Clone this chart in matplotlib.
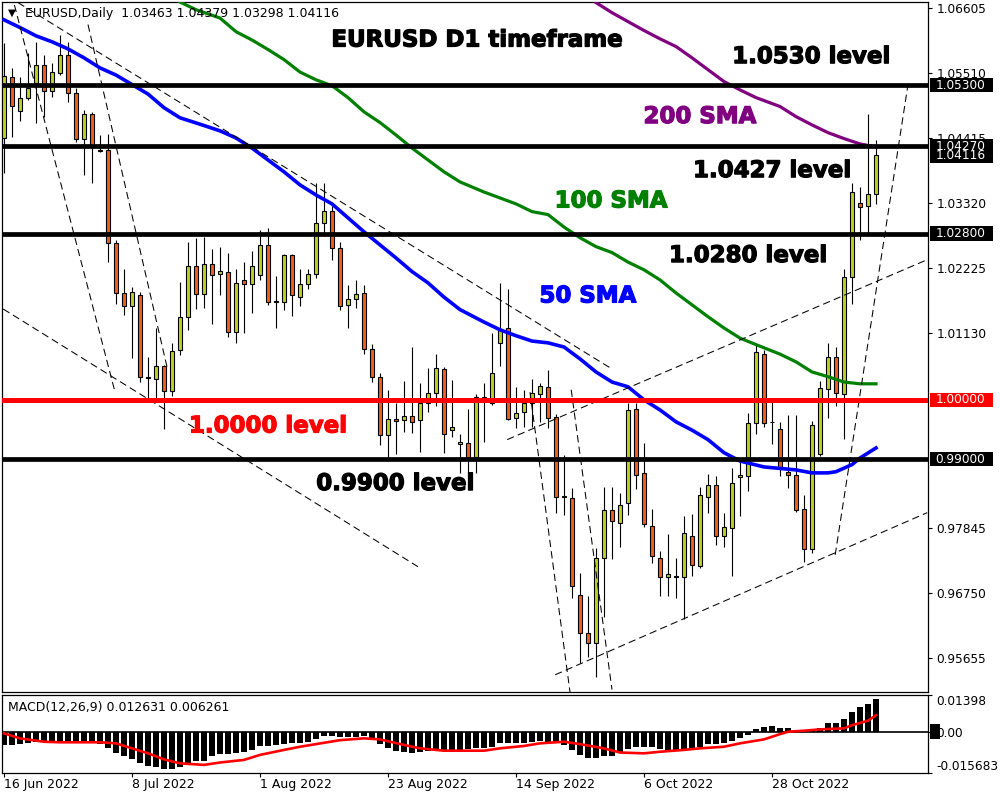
import numpy as np
import matplotlib
matplotlib.use('Agg')
import matplotlib.pyplot as plt
import matplotlib.transforms as mtransforms
import matplotlib.patheffects as pe
from matplotlib.patches import Rectangle

plt.rcParams['font.family'] = ['DejaVu Sans']

# daily bars, 16 Jun 2022 .. 16 Nov 2022 (bar index 0..109)
opens = [1.0441, 1.0544, 1.0487, 1.0508, 1.0534, 1.0564, 1.0520, 1.0551, 1.0581, 1.0517,
         1.0439, 1.0481, 1.0421, 1.0421, 1.0264, 1.0180, 1.0158, 1.0177, 1.0039, 1.0035,
         1.0057, 1.0015, 1.0084, 1.0140, 1.0226, 1.0178, 1.0229, 1.0212, 1.0215, 1.0114,
         1.0202, 1.0195, 1.0210, 1.0261, 1.0165, 1.0165, 1.0244, 1.0173, 1.0195, 1.0212,
         1.0298, 1.0318, 1.0256, 1.0160, 1.0170, 1.0180, 1.0086, 1.0039, 0.9941, 0.9968,
         0.9966, 0.9973, 0.9966, 0.9995, 1.0012, 1.0052, 0.9949, 0.9926, 0.9928, 0.9903,
         1.0005, 0.9995, 1.0096, 1.0121, 0.9970, 0.9980, 0.9995, 1.0010, 1.0022, 0.9971,
         0.9837, 0.9835, 0.9672, 0.9608, 0.9591, 0.9734, 0.9815, 0.9793, 0.9827, 0.9985,
         0.9877, 0.9788, 0.9734, 0.9702, 0.9703, 0.9702, 0.9771, 0.9721, 0.9837, 0.9857,
         0.9771, 0.9785, 0.9870, 0.9872, 0.9961, 1.0077, 0.9963, 0.9951, 0.9879, 0.9874,
         0.9816, 0.9749, 0.9909, 1.0019, 1.0072, 1.0010, 1.0207, 1.0332, 1.0327, 1.03463]
highs = [1.0601, 1.0559, 1.0544, 1.0584, 1.0603, 1.0581, 1.0567, 1.0614, 1.0603, 1.0525,
         1.0488, 1.0485, 1.0446, 1.0448, 1.0270, 1.0221, 1.0190, 1.0182, 1.0072, 1.0121,
         1.0058, 1.0096, 1.0199, 1.0266, 1.0273, 1.0274, 1.0254, 1.0258, 1.0247, 1.0221,
         1.0232, 1.0251, 1.0286, 1.0290, 1.0209, 1.0246, 1.0246, 1.0221, 1.0221, 1.0365,
         1.0365, 1.0327, 1.0266, 1.0194, 1.0202, 1.0194, 1.0094, 1.0045, 1.0017, 0.9995,
         1.0032, 1.0089, 1.0029, 1.0054, 1.0077, 1.0056, 1.0034, 0.9943, 0.9985, 1.0010,
         1.0029, 1.0113, 1.0197, 1.0187, 1.0022, 1.0017, 1.0035, 1.0029, 1.0051, 0.9976,
         0.9907, 0.9852, 0.9709, 0.9670, 0.9751, 0.9854, 0.9854, 0.9843, 0.9995, 0.9995,
         0.9928, 0.9816, 0.9745, 0.9774, 0.9734, 0.9805, 0.9808, 0.9854, 0.9875, 0.9872,
         0.9810, 0.9886, 0.9900, 0.9978, 1.0093, 1.0084, 0.9998, 0.9963, 0.9975, 0.9975,
         0.9840, 0.9965, 1.0032, 1.0096, 1.0089, 1.0221, 1.0365, 1.0359, 1.0481, 1.04379]
lows = [1.0382, 1.0443, 1.0470, 1.0505, 1.0466, 1.0476, 1.0510, 1.0547, 1.0502, 1.0434,
        1.0379, 1.0365, 1.0417, 1.0232, 1.0162, 1.0143, 1.0071, 1.0030, 1.0003, 1.0003,
        0.9951, 1.0007, 1.0076, 1.0118, 1.0153, 1.0155, 1.0128, 1.0177, 1.0106, 1.0096,
        1.0113, 1.0146, 1.0202, 1.0160, 1.0121, 1.0152, 1.0141, 1.0158, 1.0187, 1.0205,
        1.0276, 1.0236, 1.0152, 1.0121, 1.0155, 1.0077, 1.0030, 0.9924, 0.9899, 0.9909,
        0.9946, 0.9944, 0.9912, 0.9980, 0.9990, 0.9911, 0.9938, 0.9877, 0.9877, 0.9877,
        0.9929, 0.9992, 1.0057, 0.9966, 0.9953, 0.9955, 0.9955, 0.9963, 0.9953, 0.9810,
        0.9806, 0.9667, 0.9556, 0.9567, 0.9534, 0.9635, 0.9732, 0.9753, 0.9806, 0.9850,
        0.9786, 0.9726, 0.9670, 0.9670, 0.9667, 0.9631, 0.9704, 0.9717, 0.9810, 0.9756,
        0.9753, 0.9704, 0.9805, 0.9847, 0.9943, 0.9955, 0.9926, 0.9872, 0.9852, 0.9811,
        0.9727, 0.9742, 0.9906, 0.9970, 0.9990, 0.9934, 1.0162, 1.0269, 1.0281, 1.03298]
closes = [1.0545, 1.0495, 1.0508, 1.0525, 1.0564, 1.0520, 1.0552, 1.0581, 1.0517, 1.0439,
          1.0481, 1.0426, 1.0419, 1.0264, 1.0180, 1.0158, 1.0182, 1.0039, 1.0036, 1.0057,
          1.0015, 1.0082, 1.0140, 1.0226, 1.0178, 1.0229, 1.0210, 1.0217, 1.0114, 1.0197,
          1.0195, 1.0226, 1.0261, 1.0165, 1.0167, 1.0244, 1.0177, 1.0195, 1.0212, 1.0298,
          1.0318, 1.0256, 1.0158, 1.0170, 1.0178, 1.0086, 1.0039, 0.9941, 0.9968, 0.9965,
          0.9973, 0.9963, 0.9995, 1.0012, 1.0054, 0.9943, 0.9955, 0.9929, 0.9903, 1.0005,
          1.0003, 1.0045, 1.0120, 0.9968, 0.9978, 0.9995, 1.0012, 1.0024, 0.9970, 0.9837,
          0.9837, 0.9687, 0.9608, 0.9591, 0.9734, 0.9815, 0.9796, 0.9823, 0.9983, 0.9874,
          0.9791, 0.9737, 0.9702, 0.9707, 0.9702, 0.9776, 0.9722, 0.9840, 0.9857, 0.9771,
          0.9786, 0.9860, 0.9874, 0.9961, 1.0081, 0.9961, 0.9963, 0.9884, 0.9874, 0.9815,
          0.9749, 0.9958, 1.0020, 1.0072, 1.0012, 1.0207, 1.0350, 1.0325, 1.0347, 1.04116]

# moving averages (bar index, price)
sma50_idx = [0, 2, 4, 6, 8, 10, 12, 14, 16, 18, 20, 22, 25, 27, 29, 31, 33, 35, 37, 39,
             41, 45, 47, 49, 51, 53, 55, 57, 60, 62, 64, 66, 68, 70, 72, 74, 76, 78, 80, 82,
             84, 86, 88, 90, 92, 95, 99, 101, 103, 104, 106, 107, 109]
sma50_val = [1.0640, 1.0627, 1.0613, 1.0603, 1.0591, 1.0576, 1.0559, 1.0547, 1.0531, 1.0515,
             1.0492, 1.0475, 1.0462, 1.0453, 1.0441, 1.0424, 1.0404, 1.0384, 1.0362, 1.0345,
             1.0330, 1.0283, 1.0261, 1.0239, 1.0216, 1.0197, 1.0173, 1.0152, 1.0131, 1.0118,
             1.0108, 1.0099, 1.0096, 1.0089, 1.0069, 1.0047, 1.0030, 1.0022, 1.0000, 0.9983,
             0.9963, 0.9949, 0.9933, 0.9911, 0.9897, 0.9887, 0.9882, 0.9877, 0.9877, 0.9879,
             0.9891, 0.9902, 0.9919]
sma100_idx = [22, 24, 27, 29, 31, 33, 35, 37, 39, 41, 43, 45, 47, 49, 51, 53, 55, 57, 60, 62,
              64, 66, 68, 70, 72, 74, 76, 78, 80, 82, 84, 86, 88, 90, 92, 94, 97, 99, 101, 103,
              105, 107, 109]
sma100_val = [1.0670, 1.0657, 1.0643, 1.0620, 1.0606, 1.0590, 1.0573, 1.0552, 1.0539, 1.0529,
              1.0509, 1.0485, 1.0467, 1.0446, 1.0424, 1.0404, 1.0384, 1.0367, 1.0350, 1.0340,
              1.0330, 1.0317, 1.0312, 1.0291, 1.0273, 1.0258, 1.0248, 1.0232, 1.0219, 1.0202,
              1.0180, 1.0160, 1.0140, 1.0121, 1.0104, 1.0093, 1.0077, 1.0064, 1.0047, 1.0039,
              1.0030, 1.0027, 1.0027]
sma200_idx = [74, 76, 78, 80, 82, 84, 86, 88, 90, 92, 94, 97, 99, 101, 103, 105, 107, 109]
sma200_val = [1.0669, 1.0652, 1.0637, 1.0622, 1.0608, 1.0595, 1.0576, 1.0556, 1.0536, 1.0522,
              1.0509, 1.0494, 1.0477, 1.0463, 1.0450, 1.0440, 1.0431, 1.0426]

# dashed trend lines (start / end in bar index and price)
trend_x0 = [1.75, -0.1, 1.3, 10.5, 65.75, 70.9, 62.9, 68.9, 103.9]
trend_p0 = [1.0669, 1.0153, 1.0665, 1.0632, 1.0013, 1.0017, 0.9933, 0.9537, 0.9739]
trend_x1 = [75.75, 51.75, 13.9, 20.4, 70.75, 76.0, 115.4, 115.4, 113.0]
trend_p1 = [1.0054, 0.9719, 1.0012, 1.0054, 0.9508, 0.9512, 1.0236, 0.9810, 1.0531]

levels = [1.0530, 1.0427, 1.0280, 0.9900]
level_labels = ['1.05300', '1.04270', '1.02800', '0.99000']
parity = 1.0000
last_price = 1.04116

price_ticks = [1.06605, 1.05510, 1.04415, 1.03320, 1.02225, 1.01130, 0.97845, 0.96750, 0.95655]

ann_text = ['EURUSD D1 timeframe', '1.0530 level', '200 SMA', '1.0427 level', '100 SMA',
            '1.0280 level', '50 SMA', '1.0000 level', '0.9900 level']
ann_x = [59.1, 100.9, 87.0, 96.0, 75.9, 93.0, 73.0, 33.0, 48.9]
ann_p = [1.0606, 1.0578, 1.0477, 1.0386, 1.0335, 1.0243, 1.0175, 0.9956, 0.9859]
ann_color = ['black', 'black', '#800080', 'black', '#008000', 'black', '#0000ff', '#ff0000', 'black']

# MACD(12,26,9): histogram = main line, red = signal
macd_hist = [-0.0050, -0.0050, -0.0047, -0.0044, -0.0038, -0.0038, -0.0038, -0.0038, -0.0038, -0.0038,
             -0.0038, -0.0042, -0.0047, -0.0063, -0.0079, -0.0094, -0.0105, -0.0120, -0.0132, -0.0135,
             -0.0142, -0.0142, -0.0135, -0.0126, -0.0113, -0.0113, -0.0094, -0.0084, -0.0084, -0.0082,
             -0.0076, -0.0069, -0.0054, -0.0054, -0.0050, -0.0047, -0.0044, -0.0042, -0.0038, -0.0029,
             -0.0016, -0.0016, -0.0019, -0.0019, -0.0019, -0.0016, -0.0025, -0.0047, -0.0063, -0.0072,
             -0.0076, -0.0079, -0.0076, -0.0072, -0.0069, -0.0069, -0.0069, -0.0069, -0.0067, -0.0063,
             -0.0063, -0.0057, -0.0044, -0.0042, -0.0042, -0.0042, -0.0038, -0.0034, -0.0038, -0.0042,
             -0.0050, -0.0069, -0.0088, -0.0101, -0.0101, -0.0094, -0.0092, -0.0082, -0.0067, -0.0057,
             -0.0057, -0.0059, -0.0067, -0.0072, -0.0072, -0.0069, -0.0067, -0.0059, -0.0047, -0.0047,
             -0.0044, -0.0034, -0.0025, -0.0013, 0.0009, 0.0019, 0.0021, 0.0016, 0.0013, 0.0006,
             0.0004, 0.0004, 0.0013, 0.0032, 0.0032, 0.0050, 0.0076, 0.0095, 0.0105, 0.0126]
sig_idx = [0, 2, 5, 7, 10, 12, 14, 16, 18, 20, 22, 25, 27, 30, 32, 35, 37, 40, 42, 45,
           47, 50, 52, 55, 57, 60, 62, 65, 67, 70, 72, 75, 77, 80, 82, 85, 87, 90, 92, 95,
           97, 98, 100, 102, 105, 106, 108, 109]
sig_val = [-0.0006, -0.0025, -0.0038, -0.0040, -0.0040, -0.0040, -0.0044, -0.0063, -0.0082, -0.0105,
           -0.0120, -0.0126, -0.0117, -0.0107, -0.0088, -0.0069, -0.0057, -0.0042, -0.0032, -0.0025,
           -0.0029, -0.0050, -0.0063, -0.0072, -0.0072, -0.0072, -0.0063, -0.0054, -0.0044, -0.0038,
           -0.0047, -0.0063, -0.0079, -0.0082, -0.0076, -0.0069, -0.0063, -0.0057, -0.0044, -0.0029,
           -0.0009, 0.0000, 0.0004, 0.0009, 0.0013, 0.0025, 0.0042, 0.0063]
macd_ticks = [0.01398, 0.0, -0.015683]
macd_tick_labels = ['0.01398', '0.00', '-0.015683']

date_idx = [0, 16, 32, 48, 64, 80, 96]
date_labels = ['16 Jun 2022', '8 Jul 2022', '1 Aug 2022', '23 Aug 2022',
               '14 Sep 2022', '6 Oct 2022', '28 Oct 2022']

bull_col = '#bdd22e'
bear_col = '#f0601f'

fig = plt.figure(figsize=(10, 8), dpi=100)
ax = fig.add_axes([0.002, 0.135, 0.926, 0.8625])
axm = fig.add_axes([0.002, 0.03375, 0.926, 0.0975])

# candles
o = np.array(opens)
h = np.array(highs)
l = np.array(lows)
c = np.array(closes)
x = np.arange(len(o))
up = c >= o
lo = np.minimum(o, c)
hgt = np.maximum(np.abs(c - o), 0.00004)
ax.vlines(x, l, h, color='black', lw=0.8, zorder=2)
ax.bar(x[up], hgt[up], bottom=lo[up], width=0.62, color=bull_col,
       edgecolor='black', linewidth=0.8, zorder=3)
ax.bar(x[~up], hgt[~up], bottom=lo[~up], width=0.62, color=bear_col,
       edgecolor='black', linewidth=0.8, zorder=3)

# moving averages
ax.plot(sma200_idx, sma200_val, color='#800080', lw=2.3, zorder=4)
ax.plot(sma100_idx, sma100_val, color='#008000', lw=2.3, zorder=4)
ax.plot(sma50_idx, sma50_val, color='#0000ff', lw=2.6, zorder=4)

# trend lines
for x0, p0, x1, p1 in zip(trend_x0, trend_p0, trend_x1, trend_p1):
    ax.plot([x0, x1], [p0, p1], color='black', lw=0.75, dashes=(7, 4), zorder=4)

# horizontal levels
for lv in levels:
    ax.axhline(lv, color='black', lw=3.4, zorder=5)
ax.axhline(parity, color='#ff0000', lw=3.6, zorder=5)

ax.set_xlim(-0.25, 115.5)
ax.set_ylim(0.9508, 1.0670)
ax.set_xticks([])
ax.yaxis.tick_right()
ax.set_yticks(price_ticks)
ax.set_yticklabels(['%.5f' % t for t in price_ticks])
ax.tick_params(axis='y', direction='out', length=3, width=0.8, pad=3, labelsize=8.7)
for sp in ax.spines.values():
    sp.set_linewidth(0.9)

blend = mtransforms.blended_transform_factory(ax.transAxes, ax.transData)


def price_box(val, txt, color):
    ax.add_patch(Rectangle((1.002, val - 0.00122), 0.068, 0.00244, transform=blend,
                           facecolor=color, edgecolor='none', clip_on=False, zorder=6))
    ax.text(1.008, val, txt, transform=blend, color='white', fontsize=8.7,
            va='center', ha='left', clip_on=False, zorder=7)


price_box(last_price, '%.5f' % last_price, 'black')
for lv, lab in zip(levels, level_labels):
    price_box(lv, lab, 'black')
price_box(parity, '1.00000', '#ff0000')

for t, xx, pp, col in zip(ann_text, ann_x, ann_p, ann_color):
    ax.text(xx, pp, t, color=col, fontsize=16.5, fontweight='bold',
            ha='center', va='center', zorder=8,
            path_effects=[pe.withStroke(linewidth=0.9, foreground=col)])

fig.text(0.008, 1 - 13 / 800, '\u25bc', fontsize=7.5, va='center')
fig.text(0.025, 1 - 13 / 800, 'EURUSD,Daily  %.5f %.5f %.5f %.5f' % (opens[-1], highs[-1], lows[-1], closes[-1]),
         fontsize=9, va='center')

# MACD panel
axm.bar(x, macd_hist, width=0.75, color='black', zorder=2)
axm.plot(sig_idx, sig_val, color='#ff0000', lw=1.9, zorder=3)
axm.axhline(0, color='black', lw=1.2, zorder=2)
axm.set_xlim(-0.25, 115.5)
axm.set_ylim(-0.015683, 0.01398)
axm.yaxis.tick_right()
axm.set_yticks(macd_ticks)
axm.set_yticklabels(macd_tick_labels)
axm.tick_params(axis='y', direction='out', length=3, width=0.8, pad=3, labelsize=8.7)
tl = axm.get_yticklabels()
tl[0].set_va('top')
tl[2].set_va('bottom')
axm.set_xticks(date_idx)
axm.set_xticklabels(date_labels, ha='left')
axm.tick_params(axis='x', direction='out', length=3, width=0.8, pad=0.5, labelsize=9)
for sp in axm.spines.values():
    sp.set_linewidth(0.9)
bm = mtransforms.blended_transform_factory(axm.transAxes, axm.transData)
axm.add_patch(Rectangle((1.002, -0.0029), 0.011, 0.0058, transform=bm,
                        facecolor='black', edgecolor='none', clip_on=False, zorder=1))
fig.text(0.008, 1 - 708 / 800, 'MACD(12,26,9) 0.012631 0.006261', fontsize=9, va='center')

fig.savefig('out.png', dpi=100, facecolor='white')
